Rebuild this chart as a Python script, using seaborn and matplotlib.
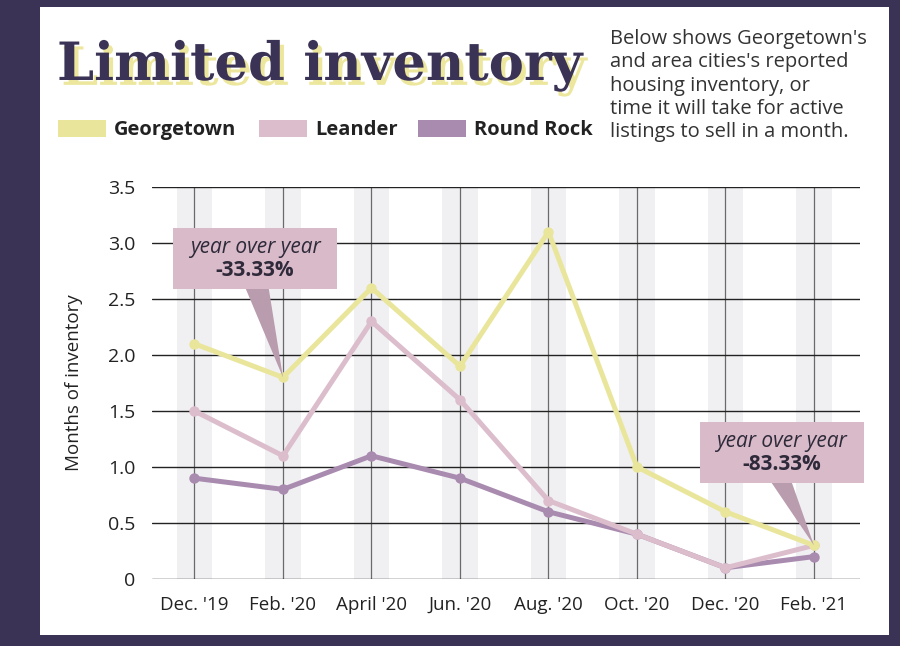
import numpy as np
import pandas as pd
import matplotlib.pyplot as plt
import matplotlib.patheffects as pe
import seaborn as sns
from matplotlib.patches import Rectangle, Polygon

months = ["Dec. '19", "Feb. '20", "April '20", "Jun. '20", "Aug. '20", "Oct. '20", "Dec. '20", "Feb. '21"]
georgetown = [2.1, 1.8, 2.6, 1.9, 3.1, 1.0, 0.6, 0.3]
leander = [1.5, 1.1, 2.3, 1.6, 0.7, 0.4, 0.1, 0.3]
round_rock = [0.9, 0.8, 1.1, 0.9, 0.6, 0.4, 0.1, 0.2]
cities = ["Georgetown", "Leander", "Round Rock"]
colors = ["#e9e69c", "#dcbdcc", "#a98bb0"]
yticks = [0, 0.5, 1.0, 1.5, 2.0, 2.5, 3.0, 3.5]
ytick_labels = ["0", "0.5", "1.0", "1.5", "2.0", "2.5", "3.0", "3.5"]

DARK = "#3a3356"
BOX = "#d9bac9"
POINTER = "#b99cad"

df = pd.DataFrame({
    "month": list(range(len(months))) * 3,
    "value": georgetown + leander + round_rock,
    "city": [c for c in cities for _ in months],
})

sns.set_style("white")
plt.rcParams["font.family"] = ["Open Sans", "DejaVu Sans"]

fig = plt.figure(figsize=(9, 6.46), dpi=100, facecolor=DARK)
# white panel
fig.patches.append(Rectangle((40 / 900, 1 - 635 / 646), 849 / 900, 628 / 646,
                             transform=fig.transFigure, facecolor="white",
                             edgecolor="none", zorder=-5))

ax = fig.add_axes([152 / 900, 1 - 579 / 646, 708 / 900, 392 / 646])
ax.set_facecolor("white")
ax.set_zorder(2)

# light background bands and vertical grid
for i in range(len(months)):
    ax.axvspan(i - 0.2, i + 0.2, color="#f0f0f3", zorder=0, lw=0)
    ax.axvline(i, color="#6a6a6a", lw=0.9, zorder=1)
for y in yticks:
    ax.axhline(y, color="#222222", lw=1.0, zorder=1)

sns.lineplot(data=df, x="month", y="value", hue="city", hue_order=cities[::-1],
             palette=dict(zip(cities, colors)), marker="o", markersize=7.5,
             markeredgewidth=0, linewidth=3.6, legend=False, ax=ax, zorder=3)

ax.set_xlim(-0.48, 7.52)
ax.set_ylim(0, 3.5)
ax.set_xticks(range(len(months)))
ax.set_xticklabels(months, fontsize=13.5, color="#222222")
ax.set_yticks(yticks)
ax.set_yticklabels(ytick_labels, fontsize=14, color="#222222")
ax.tick_params(axis="both", length=0)
ax.tick_params(axis="x", pad=12)
ax.tick_params(axis="y", pad=12)
ax.set_xlabel("")
ax.set_ylabel("Months of inventory", fontsize=13.5, color="#222222", labelpad=18)
for s in ax.spines.values():
    s.set_visible(False)


def callout(x0, x1, y0, y1, bx0, bx1, tip, pct):
    ax.add_patch(Polygon([(bx0, y0), (bx1, y0), tip], closed=True,
                         facecolor=POINTER, edgecolor="none", zorder=4, clip_on=False))
    ax.add_patch(Rectangle((x0, y0), x1 - x0, y1 - y0, facecolor=BOX,
                           edgecolor="none", zorder=5, clip_on=False))
    xc = (x0 + x1) / 2
    ax.text(xc, y0 + (y1 - y0) * 0.68, "year over year", ha="center", va="center",
            fontsize=15, style="italic", color="#2e2a3a", zorder=6)
    ax.text(xc, y0 + (y1 - y0) * 0.30, pct, ha="center", va="center",
            fontsize=15, weight="bold", color="#2e2a3a", zorder=6)


callout(-0.24, 1.61, 2.59, 3.13, 0.58, 0.84, (1, georgetown[1]), "-33.33%")
callout(5.71, 7.56, 0.86, 1.40, 6.52, 6.75, (7, georgetown[7]), "-83.33%")

# title with yellow offset shadow
fig.text(57 / 900, 1 - 80 / 646, "Limited inventory", fontsize=38, weight="heavy",
         family="DejaVu Serif", color=DARK, va="baseline",
         path_effects=[pe.withSimplePatchShadow(offset=(3, -3.5), shadow_rgbFace="#ece79c",
                                                alpha=1.0)])

# legend
leg_x = [58, 259, 418]
for name, col, lx in zip(cities, colors, leg_x):
    fig.patches.append(Rectangle((lx / 900, 1 - 137 / 646), 48 / 900, 17 / 646,
                                 transform=fig.transFigure, facecolor=col,
                                 edgecolor="none", zorder=2))
    fig.text((lx + 56) / 900, 1 - 130 / 646, name, fontsize=14.5, weight="bold",
             color="#222222", va="center")

fig.text(610 / 900, 1 - 29 / 646,
         "Below shows Georgetown's\nand area cities's reported\nhousing inventory, or\n"
         "time it will take for active\nlistings to sell in a month.",
         fontsize=14.5, color="#333333", va="top", linespacing=1.22)

fig.savefig("out.png", dpi=100, facecolor=DARK)
